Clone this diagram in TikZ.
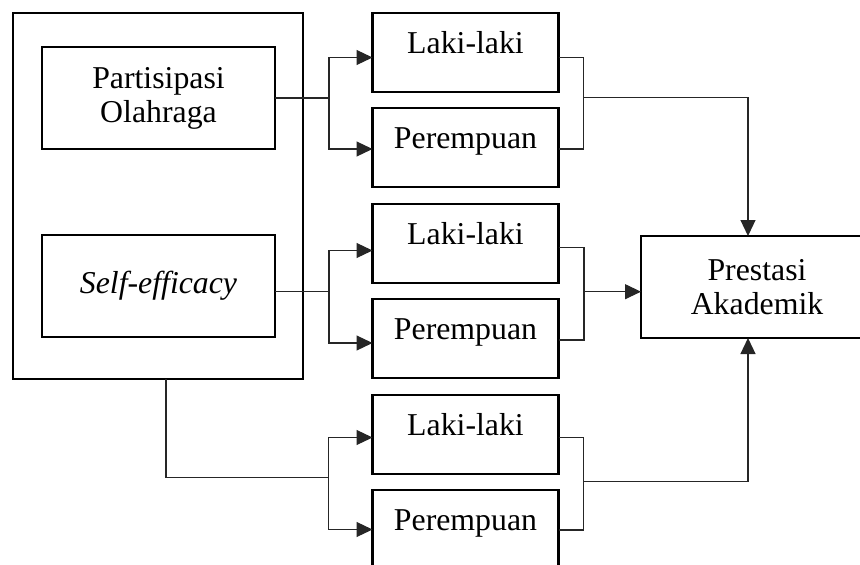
\documentclass[tikz,border=0pt]{standalone}
\usepackage{fontspec}
\setmainfont{Liberation Serif}
\usetikzlibrary{arrows.meta}
\begin{document}
\begin{tikzpicture}[x=1pt,y=-1pt,
  box/.style={draw,line width=2.2pt,inner sep=0pt,outer sep=0pt,align=center,font=\fontsize{31.8}{34}\selectfont},
  gbox/.style={box,minimum width=186pt,text height=40pt,text depth=39pt},
  conn/.style={line width=1.2pt,draw=black!85},
  arr/.style={conn,-{Triangle[length=16pt,width=15pt]}}]
\useasboundingbox (0,0) rectangle (860,565);
% left boxes
\node[box,minimum width=290pt,minimum height=366pt] (outer) at (158,196) {};
\node[box,minimum width=233pt,minimum height=102pt] (part) at (158.5,98) {Partisipasi\\Olahraga};
\node[box,minimum width=233pt,minimum height=102pt] (self) at (158.5,286) {\textit{Self-efficacy}};
% group boxes
\node[gbox,anchor=north] (l1) at (465.5,13) {Laki-laki};
\node[gbox,anchor=north] (p1) at (465.5,108) {Perempuan};
\node[gbox,anchor=north] (l2) at (465.5,204) {Laki-laki};
\node[gbox,anchor=north] (p2) at (465.5,299) {Perempuan};
\node[gbox,anchor=north] (l3) at (465.5,395) {Laki-laki};
\node[gbox,anchor=north] (p3) at (465.5,490) {Perempuan};
% target
\node[box,minimum width=232pt,minimum height=102pt] (pa) at (757,287) {Prestasi\\Akademik};
% junctions
\coordinate (j1) at (329,98);
\coordinate (j2) at (329,291.7);
\coordinate (j3) at (328.5,477.5);
\coordinate (r1) at (583.5,97.3);
\coordinate (r2) at (584,291.7);
\coordinate (r3) at (583.5,481.7);
% top group
\draw[conn] (part.east) -- (j1);
\draw[arr] (j1) |- ([yshift=-5pt]l1.west);
\draw[arr] (j1) |- ([yshift=-1.5pt]p1.west);
\draw[conn] ([yshift=-5pt]l1.east) -| (r1) |- ([yshift=-1.5pt]p1.east);
\draw[arr] (r1) -| ([xshift=-9pt]pa.north);
% middle group
\draw[conn] (self.east |- j2) -- (j2);
\draw[arr] (j2) |- ([yshift=-7pt]l2.west);
\draw[arr] (j2) |- ([yshift=-4.5pt]p2.west);
\draw[conn] ([yshift=-4pt]l2.east) -| (r2) |- ([yshift=-1.5pt]p2.east);
\draw[arr] (r2) -- (pa.west |- r2);
% bottom group
\draw[conn] ([xshift=8pt]outer.south) -- ([xshift=8pt]outer.south |- j3) -- (j3);
\draw[arr] (j3) |- ([yshift=-3pt]l3.west);
\draw[arr] (j3) |- (p3.west);
\draw[conn] ([yshift=-3pt]l3.east) -| (r3) |- ([yshift=-0.5pt]p3.east);
\draw[arr] (r3) -| ([xshift=-9pt]pa.south);
\end{tikzpicture}
\end{document}
